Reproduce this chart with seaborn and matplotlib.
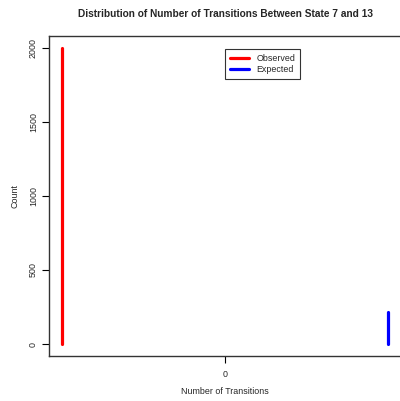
import matplotlib
matplotlib.use("Agg")
import matplotlib.pyplot as plt
import seaborn as sns
import pandas as pd
from matplotlib.lines import Line2D

# Data
transitions = [0]
observed = [2000]
expected = [215]
series_names = ["Observed", "Expected"]
series_colors = {"Observed": "#FF0000", "Expected": "#0000FF"}

sns.set_style("white")
plt.rcParams["font.family"] = ["Liberation Sans", "DejaVu Sans"]

# build long table: each series drawn as a vertical "h"-type segment, offset around the category
offsets = {"Observed": -0.1, "Expected": 0.1}
rows = []
for name, vals in zip(series_names, [observed, expected]):
    for t, v in zip(transitions, vals):
        rows.append({"x": t + offsets[name], "count": 0, "series": name})
        rows.append({"x": t + offsets[name], "count": v, "series": name})
df = pd.DataFrame(rows)

fig = plt.figure(figsize=(4.0, 4.01), dpi=100)
ax = fig.add_axes([0.1225, 0.1125, 0.88, 0.798])

sns.lineplot(data=df, x="x", y="count", hue="series", palette=series_colors,
             estimator=None, sort=False, lw=2.3, ax=ax, legend=False)

ax.set_xlim(-0.108, 0.108)
ax.set_ylim(-80, 2080)
ax.set_xticks(transitions)
ax.set_xticklabels([str(t) for t in transitions])
ax.set_yticks([0, 500, 1000, 1500, 2000])
ax.set_yticklabels(["0", "500", "1000", "1500", "2000"], rotation=90, va="center")

ax.tick_params(axis="both", direction="out", length=5, width=0.8, color="black",
               labelsize=6.4, pad=3, left=True, bottom=True)
ax.tick_params(axis="x", pad=5)
for s in ax.spines.values():
    s.set_color("#333333")
    s.set_linewidth(1.0)

ax.set_xlabel("Number of Transitions", fontsize=6.4, labelpad=6)
ax.set_ylabel("Count", fontsize=6.4, labelpad=7)
fig.suptitle("Distribution of Number of Transitions Between State 7 and 13",
             fontsize=7.3, fontweight="bold", y=0.978, x=0.5625)

handles = [Line2D([0], [0], color=series_colors[n], lw=2.3) for n in series_names]
leg = ax.legend(handles, series_names, loc="upper left", bbox_to_anchor=(0.488, 0.972),
                fontsize=6.4, frameon=True, fancybox=False, edgecolor="black",
                handlelength=2.2, borderpad=0.5, labelspacing=0.3, handletextpad=0.8)
leg.get_frame().set_linewidth(0.8)

fig.savefig("out.png", dpi=100)
